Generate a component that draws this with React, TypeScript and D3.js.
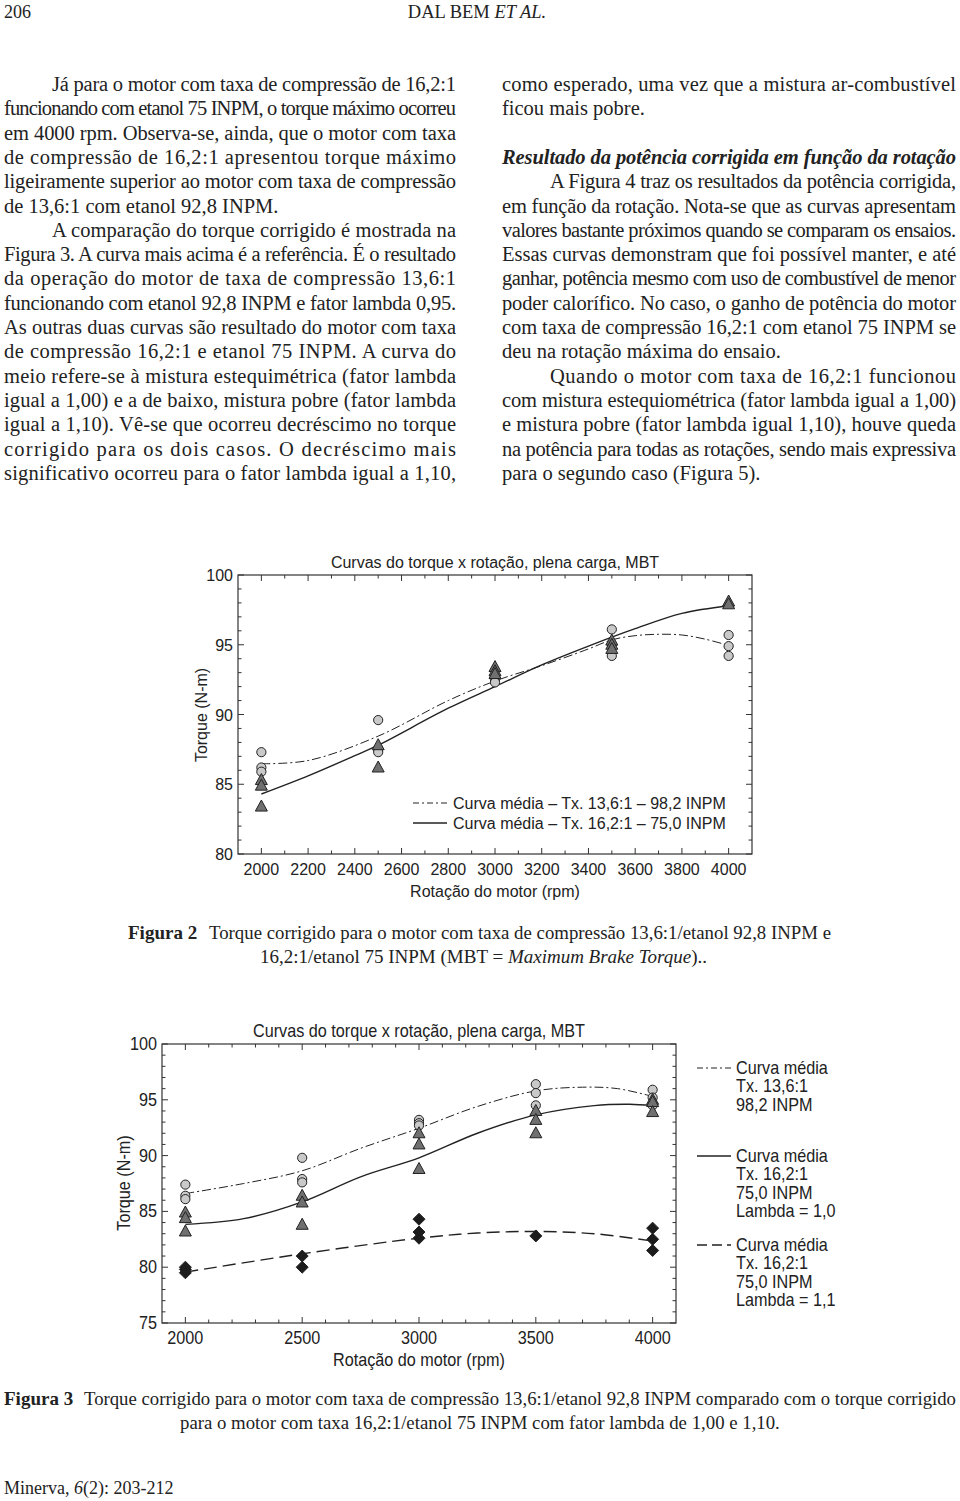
import React from "react";
import * as d3 from "d3";

// ---------- page text ----------
const leftLines = [
  "Já para o motor com taxa de compressão de 16,2:1",
  "funcionando com etanol 75 INPM, o torque máximo ocorreu",
  "em 4000 rpm. Observa-se, ainda, que o motor com taxa",
  "de compressão de 16,2:1 apresentou torque máximo",
  "ligeiramente superior ao motor com taxa de compressão",
  "de 13,6:1 com etanol 92,8 INPM.",
  "A comparação do torque corrigido é mostrada na",
  "Figura 3. A curva mais acima é a referência. É o resultado",
  "da operação do motor de taxa de compressão 13,6:1",
  "funcionando com etanol 92,8 INPM e fator lambda 0,95.",
  "As outras duas curvas são resultado do motor com taxa",
  "de compressão 16,2:1 e etanol 75 INPM. A curva do",
  "meio refere-se à mistura estequimétrica (fator lambda",
  "igual a 1,00) e a de baixo, mistura pobre (fator lambda",
  "igual a 1,10). Vê-se que ocorreu decréscimo no torque",
  "corrigido para os dois casos. O decréscimo mais",
  "significativo ocorreu para o fator lambda igual a 1,10,",
];
const leftIndent = [0, 6];
const leftLast = [5];

const rightLines = [
  "como esperado, uma vez que a mistura ar-combustível",
  "ficou mais pobre.",
  "",
  "Resultado da potência corrigida em função da rotação",
  "A Figura 4 traz os resultados da potência corrigida,",
  "em função da rotação. Nota-se que as curvas apresentam",
  "valores bastante próximos quando se comparam os ensaios.",
  "Essas curvas demonstram que foi possível manter, e até",
  "ganhar, potência mesmo com uso de combustível de menor",
  "poder calorífico. No caso, o ganho de potência do motor",
  "com taxa de compressão 16,2:1 com etanol 75 INPM se",
  "deu na rotação máxima do ensaio.",
  "Quando o motor com taxa de 16,2:1 funcionou",
  "com mistura estequiométrica (fator lambda igual a 1,00)",
  "e mistura pobre (fator lambda igual 1,10), houve queda",
  "na potência para todas as rotações, sendo mais expressiva",
  "para o segundo caso (Figura 5).",
];
const rightIndent = [4, 12];
const rightLast = [1, 11, 16];
const rightHeading = 3;

// ---------- chart data ----------
const rpm = [2000, 2500, 3000, 3500, 4000];

// Figura 2
const f2Circles = [
  [87.3, 86.2, 85.9],
  [89.6, 87.5, 87.3],
  [92.7, 92.5, 92.3],
  [96.1, 95.0, 94.2],
  [95.7, 94.9, 94.2],
];
const f2Triangles = [
  [85.3, 84.9, 83.4],
  [87.8, 86.2],
  [93.4, 93.1, 92.9],
  [95.3, 95.0, 94.7],
  [98.1, 97.9],
];
const f2CurveRpm = [2000, 2200, 2500, 2800, 3000, 3200, 3400, 3500, 3600, 3700, 3800, 3900, 4000];
const f2Curve136 = [86.47, 86.7, 88.45, 91.0, 92.4, 93.5, 94.7, 95.35, 95.65, 95.75, 95.7, 95.4, 94.95];
const f2CurveSolidRpm = [2000, 2200, 2400, 2500, 2800, 3000, 3200, 3400, 3600, 3800, 4000];
const f2Curve162 = [84.3, 85.6, 87.05, 87.8, 90.45, 92.0, 93.55, 94.9, 96.15, 97.25, 97.8];

// Figura 3
const f3Circles = [
  [87.4, 86.4, 86.1],
  [89.8, 87.9, 87.6],
  [93.2, 92.9, 92.7],
  [96.4, 95.6, 94.5],
  [95.9, 95.2, 94.5],
];
const f3Triangles = [
  [84.9, 84.4, 83.2],
  [86.4, 85.8, 83.8],
  [92.0, 91.0, 88.8],
  [94.0, 93.2, 92.0],
  [95.0, 94.8, 93.9],
];
const f3Diamonds = [
  [80.0, 79.8, 79.5],
  [81.0, 80.0],
  [84.3, 83.15, 82.6],
  [82.8],
  [83.5, 82.5, 81.5],
];
const f3CurveRpm = [2000, 2250, 2500, 2750, 3000, 3250, 3500, 3700, 3850, 4000];
const f3Curve136 = [86.6, 87.5, 88.64, 90.65, 92.45, 94.4, 95.8, 96.13, 96.0, 95.3];
const f3SolidRpm = [2000, 2250, 2500, 2750, 3000, 3250, 3500, 3750, 3900, 4000];
const f3Curve162l10 = [83.84, 84.35, 85.85, 88.1, 89.8, 92.0, 93.65, 94.48, 94.6, 94.48];
const f3DashRpm = [2000, 2500, 3000, 3250, 3500, 3750, 4000];
const f3Curve162l11 = [79.56, 81.2, 82.6, 83.06, 83.2, 83.0, 82.34];

const f2XTicks = d3.range(2000, 4001, 200);
const f3XTicks = d3.range(2000, 4001, 500);

const SERIF = "'Liberation Serif', 'Times New Roman', serif";
const SANS = "'Liberation Sans', Arial, sans-serif";

const INK = "#222";

type ColProps = { lines: string[]; x: number; width: number; indent: number[]; last: number[]; heading?: number };

const Column = ({ lines, x, width, indent, last, heading }: ColProps) => (
  <g fontFamily={SERIF} fontSize={20.5} fill={INK}>
    {lines.map((s, i) => {
      if (!s) return null;
      const ind = indent.includes(i) ? 48 : 0;
      const justify = !last.includes(i);
      const y = 91 + i * 24.3;
      return (
        <text
          key={i}
          x={x + ind}
          y={y}
          fontWeight={i === heading ? "bold" : undefined}
          fontStyle={i === heading ? "italic" : undefined}
          textLength={justify ? width - ind : undefined}
          lengthAdjust="spacing"
        >
          {s}
        </text>
      );
    })}
  </g>
);

// text squeezed horizontally (the lower figure uses a condensed face)
const SText = ({ x, y, sx, anchor, rot, children }: { x: number; y: number; sx: number; anchor?: string; rot?: number; children: React.ReactNode }) => (
  <text
    transform={`translate(${x},${y})${rot ? ` rotate(${rot})` : ""} scale(${sx},1)`}
    textAnchor={anchor as any}
  >
    {children}
  </text>
);

const triPath = (cx: number, cy: number, s: number) =>
  `M${cx},${cy - s * 0.65}L${cx + s * 0.6},${cy + s * 0.45}L${cx - s * 0.6},${cy + s * 0.45}Z`;
const diaPath = (cx: number, cy: number, s: number) =>
  `M${cx},${cy - s}L${cx + s},${cy}L${cx},${cy + s}L${cx - s},${cy}Z`;

type Frame = {
  x0: number; x1: number; y0: number; y1: number;
  yMin: number; yMax: number; xTicks: number[]; fs: number; sx: number;
};

const Axes = ({ f, x, y }: { f: Frame; x: d3.ScaleLinear<number, number>; y: d3.ScaleLinear<number, number> }) => {
  const minorX = d3.range(2000, 4001, 100);
  const minorY = d3.range(f.yMin, f.yMax + 0.001, 1);
  const majorY = d3.range(f.yMin, f.yMax + 0.001, 5);
  const w = f.x1 - f.x0;
  return (
    <g>
      <rect x={f.x0} y={f.y0} width={w} height={f.y1 - f.y0} fill="none" stroke="#333" strokeWidth={1.2} />
      {minorX.map((t) => {
        const L = f.xTicks.includes(t) ? 6 : 3.5;
        return (
          <g key={"x" + t} stroke="#333" strokeWidth={1}>
            <line x1={x(t)} x2={x(t)} y1={f.y1} y2={f.y1 - L} />
            <line x1={x(t)} x2={x(t)} y1={f.y0} y2={f.y0 + L} />
          </g>
        );
      })}
      {minorY.map((t) => {
        const L = majorY.includes(t) ? 6 : 3.5;
        return (
          <g key={"y" + t} stroke="#333" strokeWidth={1}>
            <line x1={f.x0} x2={f.x0 + L} y1={y(t)} y2={y(t)} />
            <line x1={f.x1} x2={f.x1 - L} y1={y(t)} y2={y(t)} />
          </g>
        );
      })}
      <g fontFamily={SANS} fontSize={f.fs} fill={INK}>
        {f.xTicks.map((t) => (
          <SText key={"xl" + t} x={x(t)} y={f.y1 + 21} sx={f.sx} anchor="middle">
            {t}
          </SText>
        ))}
        {majorY.map((t) => (
          <SText key={"yl" + t} x={f.x0 - 5} y={y(t) + 6} sx={f.sx} anchor="end">
            {t}
          </SText>
        ))}
      </g>
    </g>
  );
};

const Markers = ({
  x, y, circles, triangles, diamonds,
}: {
  x: d3.ScaleLinear<number, number>; y: d3.ScaleLinear<number, number>;
  circles: number[][]; triangles: number[][]; diamonds?: number[][];
}) => (
  <g stroke="#222" strokeWidth={1}>
    {circles.map((vals, i) =>
      vals.map((v, j) => <circle key={`c${i}-${j}`} cx={x(rpm[i])} cy={y(v)} r={4.6} fill="#c9c9c9" />)
    )}
    {triangles.map((vals, i) =>
      vals.map((v, j) => <path key={`t${i}-${j}`} d={triPath(x(rpm[i]), y(v), 10)} fill="#707070" />)
    )}
    {diamonds &&
      diamonds.map((vals, i) =>
        vals.map((v, j) => <path key={`d${i}-${j}`} d={diaPath(x(rpm[i]), y(v), 6)} fill="#1c1c1c" />)
      )}
  </g>
);

const DASHDOT = "9,3,2,3";
const DASHED = "13,6";

const Figure2 = () => {
  const f: Frame = { x0: 238, x1: 752, y0: 575, y1: 854, yMin: 80, yMax: 100, xTicks: f2XTicks, fs: 16, sx: 1 };
  const x = d3.scaleLinear().domain([1900, 4100]).range([f.x0, f.x1]);
  const y = d3.scaleLinear().domain([f.yMin, f.yMax]).range([f.y1, f.y0]);
  const line = d3.line<[number, number]>().x((d) => x(d[0])).y((d) => y(d[1])).curve(d3.curveCatmullRom.alpha(0.5));
  const dd = line(f2CurveRpm.map((r, i) => [r, f2Curve136[i]] as [number, number])) || "";
  const so = line(f2CurveSolidRpm.map((r, i) => [r, f2Curve162[i]] as [number, number])) || "";
  return (
    <g>
      <text x={(f.x0 + f.x1) / 2} y={568} textAnchor="middle" fontFamily={SANS} fontSize={16} fill={INK}>
        Curvas do torque x rotação, plena carga, MBT
      </text>
      <Axes f={f} x={x} y={y} />
      <path d={dd} fill="none" stroke="#222" strokeWidth={1} strokeDasharray={DASHDOT} />
      <path d={so} fill="none" stroke="#222" strokeWidth={1.4} />
      <Markers x={x} y={y} circles={f2Circles} triangles={f2Triangles} />
      <g fontFamily={SANS} fontSize={16} fill={INK}>
        <line x1={413} x2={447} y1={803} y2={803} stroke="#222" strokeWidth={1} strokeDasharray="6,3,2,3" />
        <text x={453} y={809}>Curva média – Tx. 13,6:1 – 98,2 INPM</text>
        <line x1={413} x2={447} y1={823} y2={823} stroke="#222" strokeWidth={1.4} />
        <text x={453} y={829}>Curva média – Tx. 16,2:1 – 75,0 INPM</text>
        <text x={(f.x0 + f.x1) / 2} y={897} textAnchor="middle">Rotação do motor (rpm)</text>
        <text transform={`translate(207,715) rotate(-90)`} textAnchor="middle">Torque (N-m)</text>
      </g>
    </g>
  );
};

const legend3 = [
  { y: 1068, dash: "6,3,2,3", w: 1, lines: ["Curva média", "Tx. 13,6:1", "98,2 INPM"] },
  { y: 1156, dash: undefined, w: 1.4, lines: ["Curva média", "Tx. 16,2:1", "75,0 INPM", "Lambda = 1,0"] },
  { y: 1245, dash: "10,5", w: 1.4, lines: ["Curva média", "Tx. 16,2:1", "75,0 INPM", "Lambda = 1,1"] },
];

const Figure3 = () => {
  const SX = 0.9;
  const f: Frame = { x0: 162, x1: 676, y0: 1044, y1: 1323, yMin: 75, yMax: 100, xTicks: f3XTicks, fs: 18, sx: SX };
  const x = d3.scaleLinear().domain([1900, 4100]).range([f.x0, f.x1]);
  const y = d3.scaleLinear().domain([f.yMin, f.yMax]).range([f.y1, f.y0]);
  const line = d3.line<[number, number]>().x((d) => x(d[0])).y((d) => y(d[1])).curve(d3.curveCatmullRom.alpha(0.5));
  const dd = line(f3CurveRpm.map((r, i) => [r, f3Curve136[i]] as [number, number])) || "";
  const so = line(f3SolidRpm.map((r, i) => [r, f3Curve162l10[i]] as [number, number])) || "";
  const da = line(f3DashRpm.map((r, i) => [r, f3Curve162l11[i]] as [number, number])) || "";
  return (
    <g>
      <Axes f={f} x={x} y={y} />
      <path d={dd} fill="none" stroke="#222" strokeWidth={1} strokeDasharray={DASHDOT} />
      <path d={so} fill="none" stroke="#222" strokeWidth={1.4} />
      <path d={da} fill="none" stroke="#222" strokeWidth={1.4} strokeDasharray={DASHED} />
      <Markers x={x} y={y} circles={f3Circles} triangles={f3Triangles} diamonds={f3Diamonds} />
      <g fontFamily={SANS} fontSize={18} fill={INK}>
        <SText x={(f.x0 + f.x1) / 2} y={1037} sx={SX} anchor="middle">
          Curvas do torque x rotação, plena carga, MBT
        </SText>
        {legend3.map((l, i) => (
          <g key={i}>
            <line x1={697} x2={731} y1={l.y} y2={l.y} stroke="#222" strokeWidth={l.w} strokeDasharray={l.dash} />
            {l.lines.map((s, j) => (
              <SText key={j} x={736} y={l.y + 6 + j * 18.3} sx={SX}>
                {s}
              </SText>
            ))}
          </g>
        ))}
        <SText x={(f.x0 + f.x1) / 2} y={1366} sx={SX} anchor="middle">Rotação do motor (rpm)</SText>
        <SText x={130} y={1183} sx={SX} rot={-90} anchor="middle">Torque (N-m)</SText>
      </g>
    </g>
  );
};

export default function App() {
  return (
    <div style={{ position: "absolute", left: 0, top: 0 }}>
      <svg width={960} height={1501} style={{ display: "block", background: "#fff" }}>
        <g fontFamily={SERIF} fill={INK}>
          <text x={4} y={18} fontSize={18}>206</text>
          <text x={477} y={18} fontSize={18.5} textAnchor="middle">
            DAL BEM <tspan fontStyle="italic">ET AL.</tspan>
          </text>
        </g>
        <Column lines={leftLines} x={4} width={452} indent={leftIndent} last={leftLast} />
        <Column lines={rightLines} x={502} width={454} indent={rightIndent} last={rightLast} heading={rightHeading} />

        <Figure2 />
        <g fontFamily={SERIF} fill={INK}>
          <text x={128} y={939} fontSize={19} fontWeight="bold">Figura 2</text>
          <text x={209} y={939} fontSize={18} textLength={622} lengthAdjust="spacingAndGlyphs">
            Torque corrigido para o motor com taxa de compressão 13,6:1/etanol 92,8 INPM e
          </text>
          <text x={260} y={963} fontSize={19}>
            16,2:1/etanol 75 INPM (MBT = <tspan fontStyle="italic">Maximum Brake Torque</tspan>)..
          </text>
        </g>

        <Figure3 />
        <g fontFamily={SERIF} fill={INK}>
          <text x={4} y={1405} fontSize={19} fontWeight="bold">Figura 3</text>
          <text x={84} y={1405} fontSize={18} textLength={872} lengthAdjust="spacingAndGlyphs">
            Torque corrigido para o motor com taxa de compressão 13,6:1/etanol 92,8 INPM comparado com o torque corrigido
          </text>
          <text x={180} y={1429} fontSize={18.8}>
            para o motor com taxa 16,2:1/etanol 75 INPM com fator lambda de 1,00 e 1,10.
          </text>
        </g>
        <text x={4} y={1494} fontFamily={SERIF} fontSize={18} fill={INK}>
          Minerva, <tspan fontStyle="italic">6</tspan>(2): 203-212
        </text>
      </svg>
    </div>
  );
}
